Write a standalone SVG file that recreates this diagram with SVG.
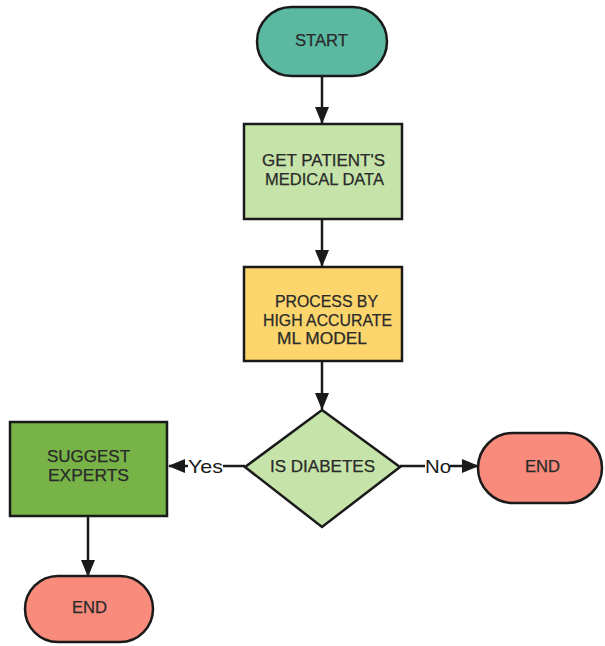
<svg xmlns="http://www.w3.org/2000/svg" width="605" height="646" viewBox="0 0 605 646">
<style>
.n{stroke:#1a1a1a;stroke-width:2.5}
.t{font-family:"Liberation Sans",Arial,sans-serif;font-size:16px;fill:#2a2a2a;text-anchor:middle;stroke:#2a2a2a;stroke-width:0.25}
.l{font-family:"Liberation Sans",Arial,sans-serif;font-size:18.5px;fill:#1a1a1a;text-anchor:middle}
.c{stroke:#1a1a1a;stroke-width:2.5;fill:none}
</style>
<defs>
<marker id="ah" viewBox="0 0 17 14" refX="16" refY="7" markerWidth="17" markerHeight="14" orient="auto" markerUnits="userSpaceOnUse">
<path d="M0,0 L17,7 L0,14 z" fill="#1a1a1a"/>
</marker>
</defs>
<rect width="605" height="646" fill="#ffffff"/>
<g id="connectors">
<line class="c" x1="322" y1="76" x2="322" y2="123" marker-end="url(#ah)"/>
<line class="c" x1="322" y1="219" x2="322" y2="266" marker-end="url(#ah)"/>
<line class="c" x1="322" y1="361" x2="322" y2="409" marker-end="url(#ah)"/>
<line class="c" x1="245" y1="466" x2="223" y2="466"/>
<line class="c" x1="188" y1="466" x2="169" y2="466" marker-end="url(#ah)"/>
<text class="l" x="205.5" y="472.5" textLength="35" lengthAdjust="spacingAndGlyphs">Yes</text>
<line class="c" x1="400" y1="466" x2="425" y2="466"/>
<line class="c" x1="450" y1="466" x2="478" y2="466" marker-end="url(#ah)"/>
<text class="l" x="438" y="472.5" textLength="26" lengthAdjust="spacingAndGlyphs">No</text>
<line class="c" x1="88" y1="516" x2="88" y2="576" marker-end="url(#ah)"/>
</g>
<g id="start">
<rect class="n" x="257" y="7" width="130" height="69" rx="34.5" fill="#5bb9a1"/>
<text class="t" x="321.5" y="46" textLength="53" lengthAdjust="spacingAndGlyphs">START</text>
</g>
<g id="get-data">
<rect class="n" x="244" y="124" width="158" height="95" fill="#c6e4a9"/>
<text class="t" x="323.5" y="166" textLength="123" lengthAdjust="spacingAndGlyphs">GET PATIENT'S</text>
<text class="t" x="324.5" y="185" textLength="119" lengthAdjust="spacingAndGlyphs">MEDICAL DATA</text>
</g>
<g id="process">
<rect class="n" x="244" y="267" width="158" height="94" fill="#fcd66d"/>
<text class="t" x="326.5" y="307" textLength="103" lengthAdjust="spacingAndGlyphs">PROCESS BY</text>
<text class="t" x="327.5" y="326" textLength="129" lengthAdjust="spacingAndGlyphs">HIGH ACCURATE</text>
<text class="t" x="322" y="344" textLength="90" lengthAdjust="spacingAndGlyphs">ML MODEL</text>
</g>
<g id="decision">
<polygon class="n" points="322,410 400,467 322,527 245,467" fill="#c6e4a9"/>
<text class="t" x="322.5" y="472" textLength="105" lengthAdjust="spacingAndGlyphs">IS DIABETES</text>
</g>
<g id="suggest">
<rect class="n" x="10" y="422" width="157" height="94" fill="#77b347"/>
<text class="t" x="88.5" y="462" textLength="83" lengthAdjust="spacingAndGlyphs">SUGGEST</text>
<text class="t" x="88.5" y="481" textLength="81" lengthAdjust="spacingAndGlyphs">EXPERTS</text>
</g>
<g id="end-no">
<rect class="n" x="478" y="433" width="124" height="70" rx="35" fill="#f98b7c"/>
<text class="t" x="542.5" y="472" textLength="35" lengthAdjust="spacingAndGlyphs">END</text>
</g>
<g id="end-yes">
<rect class="n" x="25" y="576" width="128" height="66" rx="33" fill="#f98b7c"/>
<text class="t" x="89.5" y="613" textLength="35" lengthAdjust="spacingAndGlyphs">END</text>
</g>
</svg>
